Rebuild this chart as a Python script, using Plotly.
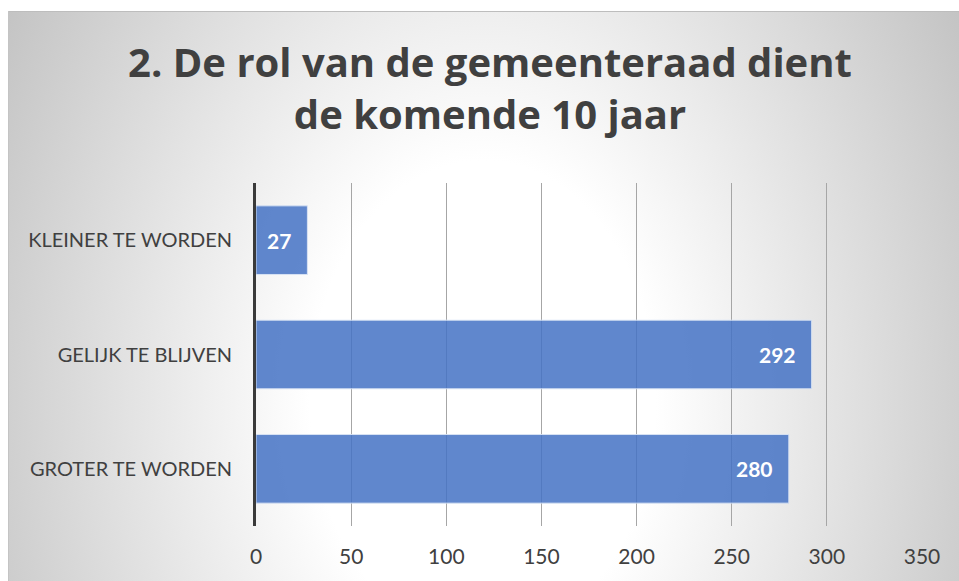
import base64
import plotly.graph_objects as go

# ---- data ----
categories = ["GROTER TE WORDEN", "GELIJK TE BLIJVEN", "KLEINER TE WORDEN"]
values = [280, 292, 27]
x_ticks = [0, 50, 100, 150, 200, 250, 300, 350]
title_text = "2. De rol van de gemeenteraad dient<br>de komende 10 jaar"

W, H = 959, 581
L, R, T, B = 256, 37, 183, 55
pw, ph = W - L - R, H - T - B

# radial gradient background for the chart area (pixels 8..959 x 11..581)
bx0, by0, bx1, by1 = 8, 11, W, H
bw, bh = bx1 - bx0, by1 - by0
cx, cy = 483 - bx0, 400 - by0
svg = f'''<svg xmlns="http://www.w3.org/2000/svg" width="{bw}" height="{bh}" viewBox="0 0 {bw} {bh}" preserveAspectRatio="none">
<defs><radialGradient id="g" gradientUnits="userSpaceOnUse" cx="{cx}" cy="{cy}" r="577"
 gradientTransform="translate({cx} {cy}) scale(1 1.383) translate({-cx} {-cy})">
<stop offset="0.3" stop-color="#ffffff"/><stop offset="1" stop-color="#c0c0c0"/></radialGradient></defs>
<rect x="0" y="0" width="{bw}" height="{bh}" fill="url(#g)"/>
<line x1="0" y1="0.5" x2="{bw}" y2="0.5" stroke="#bdbdbd" stroke-width="1"/>
<line x1="0.5" y1="0" x2="0.5" y2="{bh}" stroke="#c4c4c4" stroke-width="1"/>
</svg>'''
src = "data:image/svg+xml;base64," + base64.b64encode(svg.encode()).decode()

fig = go.Figure()
fig.add_trace(go.Bar(
    y=categories, x=values, orientation="h", width=0.6,
    marker=dict(color="rgba(68,114,196,0.85)", line=dict(color="rgba(220,230,245,0.9)", width=1)),
    hoverinfo="skip",
))

for c, v in zip(categories, values):
    fig.add_annotation(x=v, y=c, text=f"<b>{v}</b>", showarrow=False, xanchor="right",
                       xshift=-14, font=dict(family="Lato", size=21, color="white"))

fig.add_layout_image(dict(
    source=src, xref="paper", yref="paper",
    x=(bx0 - L) / pw, y=(H - B - by0) / ph, sizex=bw / pw, sizey=bh / ph,
    xanchor="left", yanchor="top", sizing="stretch", layer="below",
))

fig.update_layout(
    width=W, height=H, margin=dict(l=L, r=R, t=T, b=B, autoexpand=False),
    paper_bgcolor="white", plot_bgcolor="rgba(0,0,0,0)",
    showlegend=False,
    title=dict(text=f"<b>{title_text}</b>", x=490 / W, xanchor="center", xref="container",
               y=1 - 77 / H, yanchor="top", yref="container",
               font=dict(family="Open Sans", size=40, color="#404040")),
    xaxis=dict(range=[0, 350], tickvals=x_ticks, showgrid=True, gridcolor="#a6a6a6", gridwidth=1,
               zeroline=False, showline=False, ticks="", ticklabelstandoff=16,
               tickfont=dict(family="Lato", size=21, color="#404040"), fixedrange=True),
    yaxis=dict(categoryorder="array", categoryarray=categories, showgrid=False, zeroline=False,
               showline=True, linecolor="#3a3a3a", linewidth=3, ticks="", ticklabelstandoff=17,
               tickfont=dict(family="Lato", size=20, color="#404040"), fixedrange=True),
)

fig.write_html("out.html", config={"displayModeBar": False},
               post_script="document.body.style.margin='0';document.body.style.overflow='hidden';document.documentElement.style.overflow='hidden';")
